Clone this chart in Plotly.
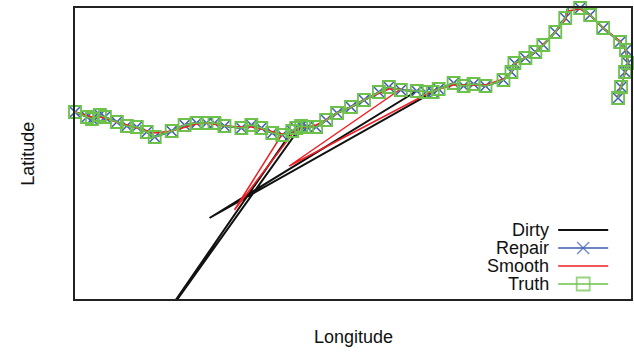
import plotly.graph_objects as go

# ---- data (longitude / latitude in chart units) ----
truth_lon = [0, 12, 17, 25, 30, 42, 52, 62, 72, 80, 97, 110, 122, 132, 140, 150, 167, 177, 187, 198,
             208, 218, 222, 227, 233, 242, 252, 263, 277, 290, 305, 315, 327, 343, 352, 359, 365, 380,
             390, 400, 412, 430, 438, 441, 452, 462, 470, 482, 492, 495, 507, 517, 530, 547, 553, 555,
             552, 548, 545]
truth_lat = [187, 182, 180, 184, 182, 177, 173, 172, 167, 162, 168, 174, 176, 176, 176, 173, 171, 174,
             171, 166, 164, 168, 171, 173, 172, 172, 179, 186, 192, 199, 207, 212, 209, 208, 207, 207,
             210, 216, 213, 215, 213, 219, 227, 236, 241, 247, 254, 267, 281, 292, 291, 284, 271, 257,
             249, 236, 227, 212, 201]

repair_lon = list(truth_lon)
repair_lat = list(truth_lat)

dirty_lon = [0, 12, 17, 25, 30, 42, 52, 62, 72, 80, 97, 110, 122, 132, 140, 150, 167, 177, 187, 198,
             208, 218, 70, 227, 233, 242, 252, 263, 277, 290, 305, 315, 327, 343, 135, 359, 365, 380,
             390, 400, 412, 430, 438, 441, 452, 462, 470, 482, 492, 495, 507, 517, 530, 547, 553, 555,
             552, 548, 545]
dirty_lat = [187, 182, 180, 184, 182, 177, 173, 172, 167, 162, 168, 174, 176, 176, 176, 173, 171, 174,
             171, 166, 164, 168, -46, 173, 172, 172, 179, 186, 192, 199, 207, 212, 209, 208, 81, 207,
             210, 216, 213, 215, 213, 219, 227, 236, 241, 247, 254, 267, 281, 292, 291, 284, 271, 257,
             249, 236, 227, 212, 201]

smooth_lon = [0, 12, 17, 25, 30, 42, 52, 62, 72, 80, 97, 110, 122, 132, 140, 150, 167, 177, 187, 198,
              208, 160, 222, 227, 233, 242, 252, 263, 277, 290, 305, 315, 327, 215, 359, 365, 380,
              390, 400, 412, 430, 438, 441, 452, 462, 470, 482, 492, 495, 507, 517, 530, 547, 553, 555,
              552, 548, 545]
smooth_lat = [187, 183, 182, 182, 181, 177, 174, 171, 168, 166, 168, 172, 175, 176, 175, 173, 172, 172,
              170, 167, 165, 89, 170, 172, 172, 174, 179, 186, 192, 199, 206, 210, 210, 133, 208,
              210, 214, 214, 214, 214, 220, 227, 235, 241, 247, 255, 267, 279, 288, 290, 284, 271, 258,
              248, 236, 226, 213, 203]

legend_names = ["Dirty", "Repair", "Smooth", "Truth"]

BLACK = "#111111"
BLUE = "#3d5db3"
RED = "#f01e23"
GREEN = "#6cc24a"

fig = go.Figure()
fig.add_trace(go.Scatter(x=dirty_lon, y=dirty_lat, mode="lines", name="Dirty",
                         line=dict(color=BLACK, width=2), showlegend=False))
fig.add_trace(go.Scatter(x=repair_lon, y=repair_lat, mode="lines+markers", name="Repair",
                         line=dict(color=BLUE, width=1.5),
                         marker=dict(symbol="x-thin-open", size=10, line=dict(color=BLUE, width=1.5)),
                         cliponaxis=False, showlegend=False))
fig.add_trace(go.Scatter(x=smooth_lon, y=smooth_lat, mode="lines", name="Smooth",
                         line=dict(color=RED, width=1.5), showlegend=False))
fig.add_trace(go.Scatter(x=truth_lon, y=truth_lat, mode="lines+markers", name="Truth",
                         line=dict(color=GREEN, width=1.5),
                         marker=dict(symbol="square-open", size=12, color=GREEN,
                                     line=dict(color=GREEN, width=1.8)),
                         cliponaxis=False, showlegend=False))

# ---- manual legend (text left, sample right) on an overlay 0..1 axis ----
rows_y = [0.237, 0.175, 0.113, 0.0515]
styles = [
    dict(line=dict(color=BLACK, width=2), mode="lines", marker=None),
    dict(line=dict(color=BLUE, width=1.5), mode="lines+markers",
         marker=dict(symbol="x-thin-open", size=[0, 12, 0], line=dict(color=BLUE, width=1.5))),
    dict(line=dict(color=RED, width=1.5), mode="lines", marker=None),
    dict(line=dict(color=GREEN, width=1.5), mode="lines+markers",
         marker=dict(symbol="square-open", size=[0, 13, 0], color=GREEN,
                     line=dict(color=GREEN, width=1.8))),
]
for name, yy, st in zip(legend_names, rows_y, styles):
    kw = dict(x=[0.869, 0.914, 0.959], y=[yy, yy, yy], mode=st["mode"], line=st["line"],
              xaxis="x2", yaxis="y2", cliponaxis=False, showlegend=False, hoverinfo="skip")
    if st["marker"] is not None:
        kw["marker"] = st["marker"]
    fig.add_trace(go.Scatter(**kw))
    fig.add_annotation(x=0.855, y=yy, xref="paper", yref="paper", text=name, showarrow=False,
                       xanchor="right", yanchor="middle", borderpad=0,
                       font=dict(size=18, color="#111111"))

fig.add_annotation(x=0.5, y=-0.1306, xref="paper", yref="paper", text="Longitude", showarrow=False,
                   xanchor="center", yanchor="middle", font=dict(size=18, color="#111111"))
fig.add_annotation(x=-0.086, y=0.5, xref="paper", yref="paper", text="Latitude", showarrow=False,
                   textangle=-90, xanchor="center", yanchor="middle", font=dict(size=18, color="#111111"))

axis_common = dict(showgrid=False, zeroline=False, showticklabels=False, ticks="",
                   showline=True, mirror=True, linecolor="#222222", linewidth=1.5)
fig.update_layout(
    width=634, height=352,
    margin=dict(l=75, r=1, t=8, b=53),
    paper_bgcolor="white", plot_bgcolor="white",
    font=dict(family="Liberation Sans, Arial, sans-serif", size=18, color="#111111"),
    xaxis=dict(range=[0, 558], **axis_common),
    yaxis=dict(range=[0, 291], **axis_common),
    xaxis2=dict(range=[0, 1], overlaying="x", visible=False),
    yaxis2=dict(range=[0, 1], overlaying="y", visible=False),
)
fig.write_html("out.html")
